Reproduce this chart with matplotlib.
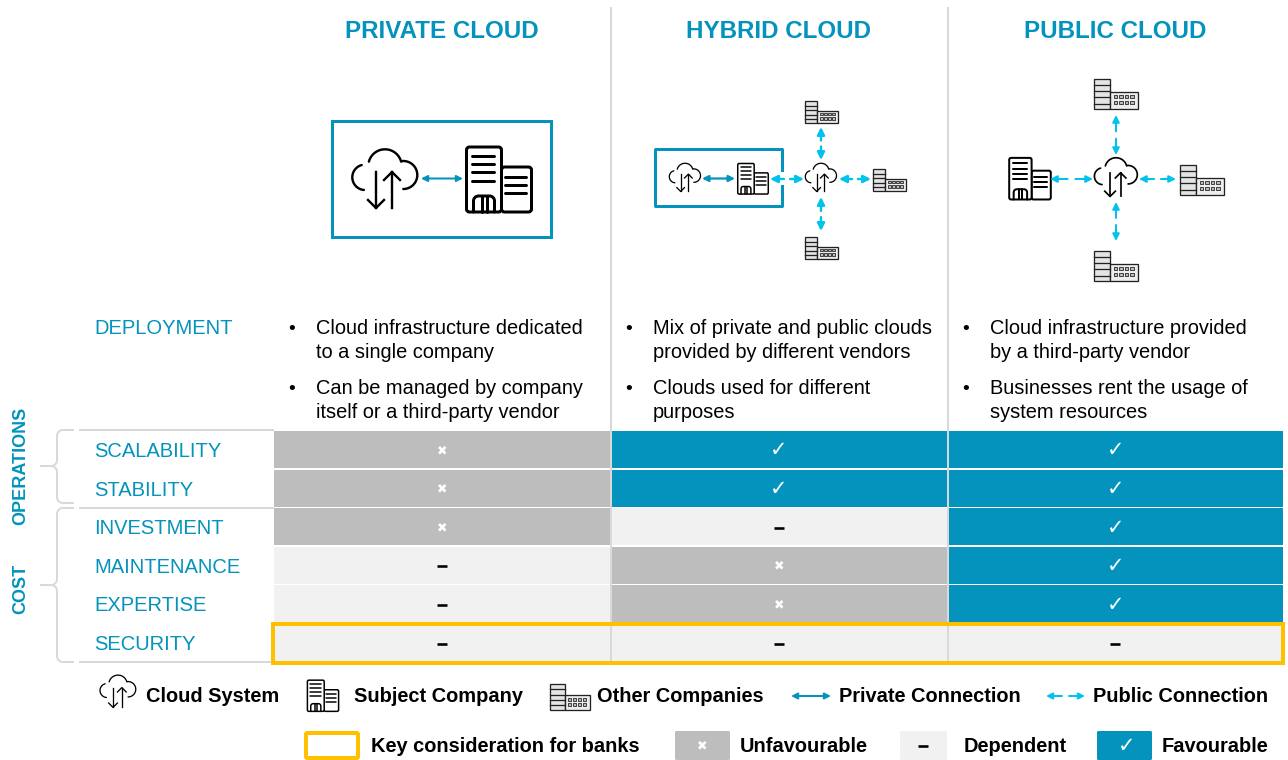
import numpy as np
import matplotlib
matplotlib.use("Agg")
import matplotlib.pyplot as plt
from matplotlib.patches import Rectangle, FancyBboxPatch

plt.rcParams['font.family'] = ['Liberation Sans', 'DejaVu Sans']

TEAL = '#0393BC'
CYAN = '#00C3ED'
GREY = '#BDBDBD'
LIGHT = '#F1F1F1'
YELLOW = '#FFC000'
RULE = '#D9D9D9'

columns = ['PRIVATE CLOUD', 'HYBRID CLOUD', 'PUBLIC CLOUD']
rows = ['SCALABILITY', 'STABILITY', 'INVESTMENT', 'MAINTENANCE', 'EXPERTISE', 'SECURITY']
# -1 unfavourable, 0 dependent, 1 favourable
private_scores = [-1, -1, -1, 0, 0, 0]
hybrid_scores = [1, 1, 0, -1, -1, 0]
public_scores = [1, 1, 1, 1, 1, 0]
deployment = [
    [['Cloud infrastructure dedicated', 'to a single company'],
     ['Can be managed by company', 'itself or a third-party vendor']],
    [['Mix of private and public clouds', 'provided by different vendors'],
     ['Clouds used for different', 'purposes']],
    [['Cloud infrastructure provided', 'by a third-party vendor'],
     ['Businesses rent the usage of', 'system resources']],
]

fig = plt.figure(figsize=(12.88, 7.6), dpi=100)
ax = fig.add_axes([0, 0, 1, 1])
ax.set_xlim(0, 1288)
ax.set_ylim(760, 0)
ax.axis('off')

def px(w):
    return w * 0.72

def arc(cx, cy, r, a0, a1):
    t = np.radians(np.linspace(a0, a1, 40))
    return cx + r * np.cos(t), cy + r * np.sin(t)

def cloud_icon(cx, cy, s, lw):
    # angles run clockwise on screen because y points down
    parts = [arc(-20, -2.7, 12.7, 95, 255), arc(0, -14, 16.7, 195, 345), arc(18.3, -5, 14, 265, 450)]
    for xs, ys in parts:
        ax.plot(cx + xs * s, cy + ys * s, color='black', lw=px(lw), solid_capstyle='round')
    ax.plot([cx - 9 * s] * 2, [cy - 8 * s, cy + 28 * s], color='black', lw=px(lw))
    ax.plot([cx - 17 * s, cx - 9 * s, cx - 1 * s], [cy + 20 * s, cy + 28 * s, cy + 20 * s], color='black', lw=px(lw))
    ax.plot([cx + 7 * s] * 2, [cy - 8 * s, cy + 28 * s], color='black', lw=px(lw))
    ax.plot([cx - 1 * s, cx + 7 * s, cx + 15 * s], [cy, cy - 8 * s, cy], color='black', lw=px(lw))

def company_icon(cx, cy, s, lw):
    k = dict(color='black', lw=px(lw), solid_capstyle='round', solid_joinstyle='round')
    box = 'round,pad=0,rounding_size=%.2f' % (3 * s)
    ax.add_patch(FancyBboxPatch((cx + 2.5 * s, cy - 13 * s), 30 * s, 45 * s, boxstyle=box, fc='none', ec='black', lw=px(lw)))
    ax.add_patch(FancyBboxPatch((cx - 32.5 * s, cy - 33 * s), 35 * s, 65 * s, boxstyle=box, fc='white', ec='black', lw=px(lw)))
    for y in [-24.5, -16, -8, 0.5]:
        ax.plot(cx + np.array([-26.5, -5]) * s, cy + np.array([y, y]) * s, **k)
    for y in [-3.5, 5, 13]:
        ax.plot(cx + np.array([6, 27]) * s, cy + np.array([y, y]) * s, **k)
    # door
    xl, yl = arc(-20.5, 21, 5, 180, 270)
    xr, yr = arc(-9.5, 21, 5, 270, 360)
    ax.plot(cx + np.r_[-25.5, xl, xr, -4.5] * s, cy + np.r_[32, yl, yr, 32] * s, **k)
    for x in [-17.3, -12.3]:
        ax.plot(cx + np.array([x, x]) * s, cy + np.array([16, 32]) * s, **k)

def other_icon(cx, cy, s, lw=1.3):
    # sized for a 33 px wide icon at s=1
    ax.add_patch(Rectangle((cx - 16.5 * s, cy - 11 * s), 12 * s, 22 * s, fc='#E4E4E4', ec='#222222', lw=px(lw)))
    ax.add_patch(Rectangle((cx - 4.5 * s, cy - 1.5 * s), 21 * s, 12.5 * s, fc='#EDEDED', ec='#222222', lw=px(lw)))
    for y in [-6.5, -2, 2.5, 7]:
        ax.plot([cx - 16.5 * s, cx - 4.5 * s], [cy + y * s] * 2, color='#222222', lw=px(lw))
    for y in [2, 6.5]:
        for x in [-1.5, 2.5, 6.5, 10.5]:
            ax.add_patch(Rectangle((cx + x * s, cy + (y - 1.2) * s), 2.6 * s, 2.4 * s, fc='#BBBBBB', ec='#333333', lw=px(0.9)))

def double_arrow(x0, y0, x1, y1, color, lw=2, head=9):
    ax.annotate('', xy=(x1, y1), xytext=(x0, y0),
                arrowprops=dict(arrowstyle='<|-|>', color=color, lw=px(lw), shrinkA=0, shrinkB=0,
                                mutation_scale=head))

def dashed_arrow(x0, y0, x1, y1, color=CYAN, lw=2.4, head=11):
    # two outward arrows with a gap in the middle
    mx, my = (x0 + x1) / 2, (y0 + y1) / 2
    gap = 0.18
    for (ax0, ay0) in [(x0, y0), (x1, y1)]:
        sx = mx + (ax0 - mx) * gap
        sy = my + (ay0 - my) * gap
        ax.annotate('', xy=(ax0, ay0), xytext=(sx, sy),
                    arrowprops=dict(arrowstyle='-|>', color=color, lw=px(lw), shrinkA=0, shrinkB=0,
                                    mutation_scale=head))

def bracket(top, bottom, nose, bottom_rule=True):
    k = dict(color=RULE, lw=px(2))
    ax.plot([80, 273], [top, top], **k)
    if bottom_rule:
        ax.plot([80, 273], [bottom, bottom], **k)
    xs, ys = arc(63, top + 6, 6, 180, 270)
    ax.plot(np.r_[xs, 73], np.r_[ys, top], **k)
    xs, ys = arc(63, bottom - 6, 6, 90, 180)
    ax.plot(np.r_[73, xs], np.r_[bottom, ys], **k)
    ax.plot([57, 57], [top + 6, nose - 6], **k)
    ax.plot([57, 57], [nose + 6, bottom - 6], **k)
    xs, ys = arc(51, nose - 6, 6, 0, 90)
    ax.plot(np.r_[xs, 41], np.r_[ys, nose], **k)
    xs, ys = arc(51, nose + 6, 6, 270, 360)
    ax.plot(np.r_[41, xs], np.r_[nose, ys], **k)

def score_mark(x, y, score):
    if score == 1:
        ax.text(x, y, '\u2713', color='white', fontsize=15, ha='center', va='center',
                family='DejaVu Sans')
    elif score == -1:
        ax.text(x, y, '\u2716', color='white', fontsize=9, ha='center', va='center',
                family='DejaVu Sans')
    else:
        ax.plot([x - 5, x + 5], [y, y], color='black', lw=px(2.6), solid_capstyle='butt')

fills = {1: TEAL, 0: LIGHT, -1: GREY}
col_left = [274, 611, 948]
col_width = [336, 336, 335]
row_top = 431
row_step = 38.6
row_h = 37
scores = [private_scores, hybrid_scores, public_scores]

# table cells
for c, col in enumerate(scores):
    for r, val in enumerate(col):
        y = row_top + r * row_step
        ax.add_patch(Rectangle((col_left[c], y), col_width[c], row_h, fc=fills[val], ec='none', zorder=1))
        score_mark(col_left[c] + col_width[c] / 2, y + row_h / 2 + 1, val)

# separators and highlight
for x in [611, 948]:
    ax.plot([x, x], [8, 661], color=RULE, lw=px(2), zorder=2)
ax.add_patch(Rectangle((273.5, 623.5), 1010, 39, fc='none', ec=YELLOW, lw=px(4), zorder=4))

# headings
for c, name in enumerate(columns):
    ax.text(col_left[c] + col_width[c] / 2, 32, name, color=TEAL, fontsize=17.4,
            fontweight='bold', ha='center', va='center')

# row labels
ax.text(94, 329, 'DEPLOYMENT', color=TEAL, fontsize=14.5, va='center')
for r, name in enumerate(rows):
    ax.text(94, row_top + r * row_step + row_h / 2 + 2, name, color=TEAL, fontsize=14.5, va='center')

bracket(430, 503, 466, bottom_rule=False)
bracket(508, 662, 585)
ax.text(21, 466, 'OPERATIONS', color=TEAL, fontsize=13.0, fontweight='bold', rotation=90, ha='center', va='center')
ax.text(21, 589, 'COST', color=TEAL, fontsize=13.0, fontweight='bold', rotation=90, ha='center', va='center')

# deployment text
for c, bullets in enumerate(deployment):
    left = col_left[c]
    for b, lines in enumerate(bullets):
        y = 329 + b * 60
        ax.text(left + 18, y, '\u2022', fontsize=14, va='center', ha='center', color='black')
        for i, line in enumerate(lines):
            ax.text(left + 42, y + i * 24, line, fontsize=14.4, va='center', color='black')

# private cloud diagram
ax.add_patch(Rectangle((332.5, 121), 219, 116, fc='none', ec=TEAL, lw=px(3)))
cloud_icon(385, 180, 1, 2.4)
company_icon(499, 180, 1, 3)
double_arrow(421, 178.5, 463, 178.5, TEAL, lw=2, head=9)

# hybrid cloud diagram
ax.plot([782, 782, 655.5, 655.5, 782, 782], [170, 149, 149, 206, 206, 186], color=TEAL, lw=px(3),
        solid_joinstyle='round')
cloud_icon(685, 178, 0.48, 1.3)
company_icon(753, 179, 0.47, 1.5)
double_arrow(702, 178.5, 735, 178.5, TEAL, lw=2.2, head=9)
cloud_icon(821, 178, 0.48, 1.3)
dashed_arrow(770, 179, 804, 179)
dashed_arrow(839, 179, 871, 179)
dashed_arrow(821, 127, 821, 160)
dashed_arrow(821, 197, 821, 231)
other_icon(822, 112, 1)
other_icon(890, 180, 1)
other_icon(822, 248, 1)

# public cloud diagram
cloud_icon(1116, 178, 0.66, 1.7)
company_icon(1030, 179, 0.64, 2)
dashed_arrow(1050, 179, 1093, 179, lw=2, head=10)
dashed_arrow(1139, 179, 1176, 179, lw=2, head=10)
dashed_arrow(1116, 115, 1116, 155, lw=2, head=10)
dashed_arrow(1116, 202, 1116, 241, lw=2, head=10)
other_icon(1116, 94, 1.36)
other_icon(1202, 180, 1.36)
other_icon(1116, 266, 1.36)

# legend, first row
leg = dict(fontsize=14.4, fontweight='bold', color='black', va='center')
cloud_icon(118, 692, 0.55, 1.3)
ax.text(146, 697, 'Cloud System', **leg)
company_icon(323, 696, 0.48, 1.5)
ax.text(354, 697, 'Subject Company', **leg)
other_icon(570, 697, 1.2)
ax.text(597, 697, 'Other Companies', **leg)
double_arrow(791, 696, 831, 696, TEAL, lw=2, head=9)
ax.text(839, 697, 'Private Connection', **leg)
dashed_arrow(1046, 696, 1085, 696, lw=2, head=9)
ax.text(1093, 697, 'Public Connection', **leg)

# legend, second row
ax.add_patch(FancyBboxPatch((306, 733), 52, 25, boxstyle='round,pad=0,rounding_size=1.5', fc='white', ec=YELLOW, lw=px(4)))
ax.text(371, 746, 'Key consideration for banks', **leg)
swatches = [(675, 55, -1, 'Unfavourable', 740), (900, 47, 0, 'Dependent', 964), (1097, 55, 1, 'Favourable', 1162)]
for x, w, val, label, tx in swatches:
    ax.add_patch(FancyBboxPatch((x, 731), w, 29, boxstyle='round,pad=0,rounding_size=1.5', fc=fills[val], ec='none'))
    score_mark(x + w / 2 + (2 if val == 1 else 0), 746, val)
    ax.text(tx, 747, label, **leg)

fig.savefig('out.png', dpi=100)
